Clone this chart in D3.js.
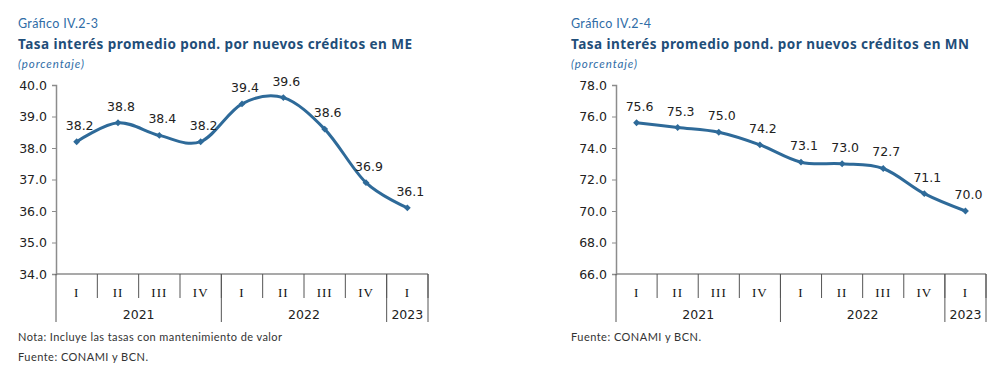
<!DOCTYPE html>
<html>
<head>
<meta charset="utf-8">
<script src="https://cdn.jsdelivr.net/npm/d3@7"></script>
<style>
  body { margin: 0; background: #fff; }
  svg { display: block; }
</style>
</head>
<body>
<svg id="chart" width="1008" height="376"></svg>
<script>
const quarters = ["I", "II", "III", "IV", "I", "II", "III", "IV", "I"];
const years = [
  { year: "2021", from: 0, to: 4 },
  { year: "2022", from: 4, to: 8 },
  { year: "2023", from: 8, to: 9 }
];
const valuesME = [38.2, 38.8, 38.4, 38.2, 39.4, 39.6, 38.6, 36.9, 36.1];
const valuesMN = [75.6, 75.3, 75.0, 74.2, 73.1, 73.0, 72.7, 71.1, 70.0];
const ticksME = [34, 35, 36, 37, 38, 39, 40];
const ticksMN = [66, 68, 70, 72, 74, 76, 78];

const lineColor = "#2E6A99";
const axisColor = "#8c8c8c";
const svg = d3.select("#chart");

function drawPanel(opt) {
  const g = svg.append("g");
  const top = 85, bottom = 274;

  // headings
  g.append("text").attr("x", opt.tx).attr("y", 28)
    .style("font-family", "Lato, 'Noto Sans', sans-serif").style("font-size", "12.5px")
    .attr("fill", "#2f6ca6")
    .attr("textLength", 80).attr("lengthAdjust", "spacing")
    .text(opt.code);
  g.append("text").attr("x", opt.tx).attr("y", 49)
    .style("font-family", "'Noto Sans', sans-serif").style("font-size", "13.5px")
    .style("font-weight", "bold").attr("fill", "#1f4e79")
    .attr("textLength", opt.titleLen).attr("lengthAdjust", "spacing")
    .text(opt.title);
  g.append("text").attr("x", opt.tx).attr("y", 68)
    .style("font-family", "Lato, 'Noto Sans', sans-serif").style("font-size", "11.5px")
    .style("font-style", "italic").attr("fill", "#2f6ca6")
    .attr("textLength", 66).attr("lengthAdjust", "spacing")
    .text("(porcentaje)");

  const x = d3.scaleBand().domain(d3.range(quarters.length)).range([opt.x0, opt.x1]);
  const y = d3.scaleLinear().domain(opt.domain).range([bottom, top]);

  // y axis
  const yAxis = g.append("g").attr("transform", `translate(${opt.x0},0)`)
    .call(d3.axisLeft(y).tickValues(opt.ticks).tickFormat(d3.format(".1f")).tickSizeOuter(0).tickSize(4).tickPadding(5));
  yAxis.select(".domain").attr("stroke", axisColor).attr("stroke-width", 1.5);
  yAxis.selectAll(".tick line").attr("stroke", axisColor);
  yAxis.selectAll(".tick text").attr("fill", "#222")
    .style("font-family", "'DejaVu Sans', Verdana, sans-serif").style("font-size", "12.5px");

  // x axis baseline
  g.append("line").attr("x1", opt.x0).attr("x2", opt.x1).attr("y1", bottom).attr("y2", bottom)
    .attr("stroke", axisColor).attr("stroke-width", 1.5);

  // quarter separators
  g.selectAll(".qsep").data(d3.range(1, quarters.length + 1)).join("line")
    .attr("x1", i => i < quarters.length ? x(i) : opt.x1)
    .attr("x2", i => i < quarters.length ? x(i) : opt.x1)
    .attr("y1", bottom).attr("y2", 298)
    .attr("stroke", "#555").attr("stroke-width", 1);
  // year separators
  const yb = [0, ...years.map(d => d.to)];
  g.selectAll(".ysep").data(yb).join("line")
    .attr("x1", i => i < quarters.length ? x(i) : opt.x1)
    .attr("x2", i => i < quarters.length ? x(i) : opt.x1)
    .attr("y1", bottom).attr("y2", 322)
    .attr("stroke", "#555").attr("stroke-width", 1);

  g.selectAll(".qlab").data(quarters).join("text")
    .attr("x", (d, i) => x(i) + x.bandwidth() / 2).attr("y", 297)
    .attr("text-anchor", "middle")
    .style("font-family", "'Liberation Serif', 'DejaVu Serif', serif").style("font-size", "13px")
    .style("letter-spacing", "1px")
    .attr("fill", "#111").text(d => d);
  g.selectAll(".ylab").data(years).join("text")
    .attr("x", d => (x(d.from) + (d.to < quarters.length ? x(d.to) : opt.x1)) / 2).attr("y", 319)
    .attr("text-anchor", "middle")
    .style("font-family", "'DejaVu Sans', Verdana, sans-serif").style("font-size", "12.5px")
    .attr("fill", "#222").text(d => d.year);

  // line
  const line = d3.line()
    .x((d, i) => x(i) + x.bandwidth() / 2)
    .y(d => y(d))
    .curve(d3.curveCatmullRom.alpha(0));
  g.append("path").datum(opt.values)
    .attr("fill", "none").attr("stroke", lineColor).attr("stroke-width", 3)
    .attr("d", line);

  // diamond markers
  g.selectAll(".mk").data(opt.values).join("path")
    .attr("d", d3.symbol(d3.symbolDiamond2, 30))
    .attr("transform", (d, i) => `translate(${x(i) + x.bandwidth() / 2},${y(d)})`)
    .attr("fill", lineColor);

  // data labels
  g.selectAll(".dl").data(opt.values).join("text")
    .attr("x", (d, i) => x(i) + x.bandwidth() / 2 + 3)
    .attr("y", d => y(d) - 12)
    .attr("text-anchor", "middle")
    .style("font-family", "'DejaVu Sans', Verdana, sans-serif").style("font-size", "12.5px")
    .attr("fill", "#222").text(d => d.toFixed(1));

  // notes
  opt.notes.forEach((n, i) => {
    g.append("text").attr("x", opt.tx).attr("y", 341 + i * 20)
      .style("font-family", "Lato, 'Noto Sans', sans-serif").style("font-size", "11px")
      .attr("fill", "#333")
      .attr("textLength", n.len).attr("lengthAdjust", "spacing")
      .text(n.text);
  });
}

drawPanel({
  tx: 18, code: "Gráfico IV.2-3",
  title: "Tasa interés promedio pond. por nuevos créditos en ME", titleLen: 394,
  x0: 56, x1: 428, domain: [34, 40], ticks: ticksME, values: valuesME,
  notes: [
    { text: "Nota: Incluye las tasas con mantenimiento de valor", len: 264 },
    { text: "Fuente: CONAMI y BCN.", len: 130 }
  ]
});
drawPanel({
  tx: 571, code: "Gráfico IV.2-4",
  title: "Tasa interés promedio pond. por nuevos créditos en MN", titleLen: 398,
  x0: 616, x1: 986, domain: [66, 78], ticks: ticksMN, values: valuesMN,
  notes: [{ text: "Fuente: CONAMI y BCN.", len: 130 }]
});
</script>
</body>
</html>
